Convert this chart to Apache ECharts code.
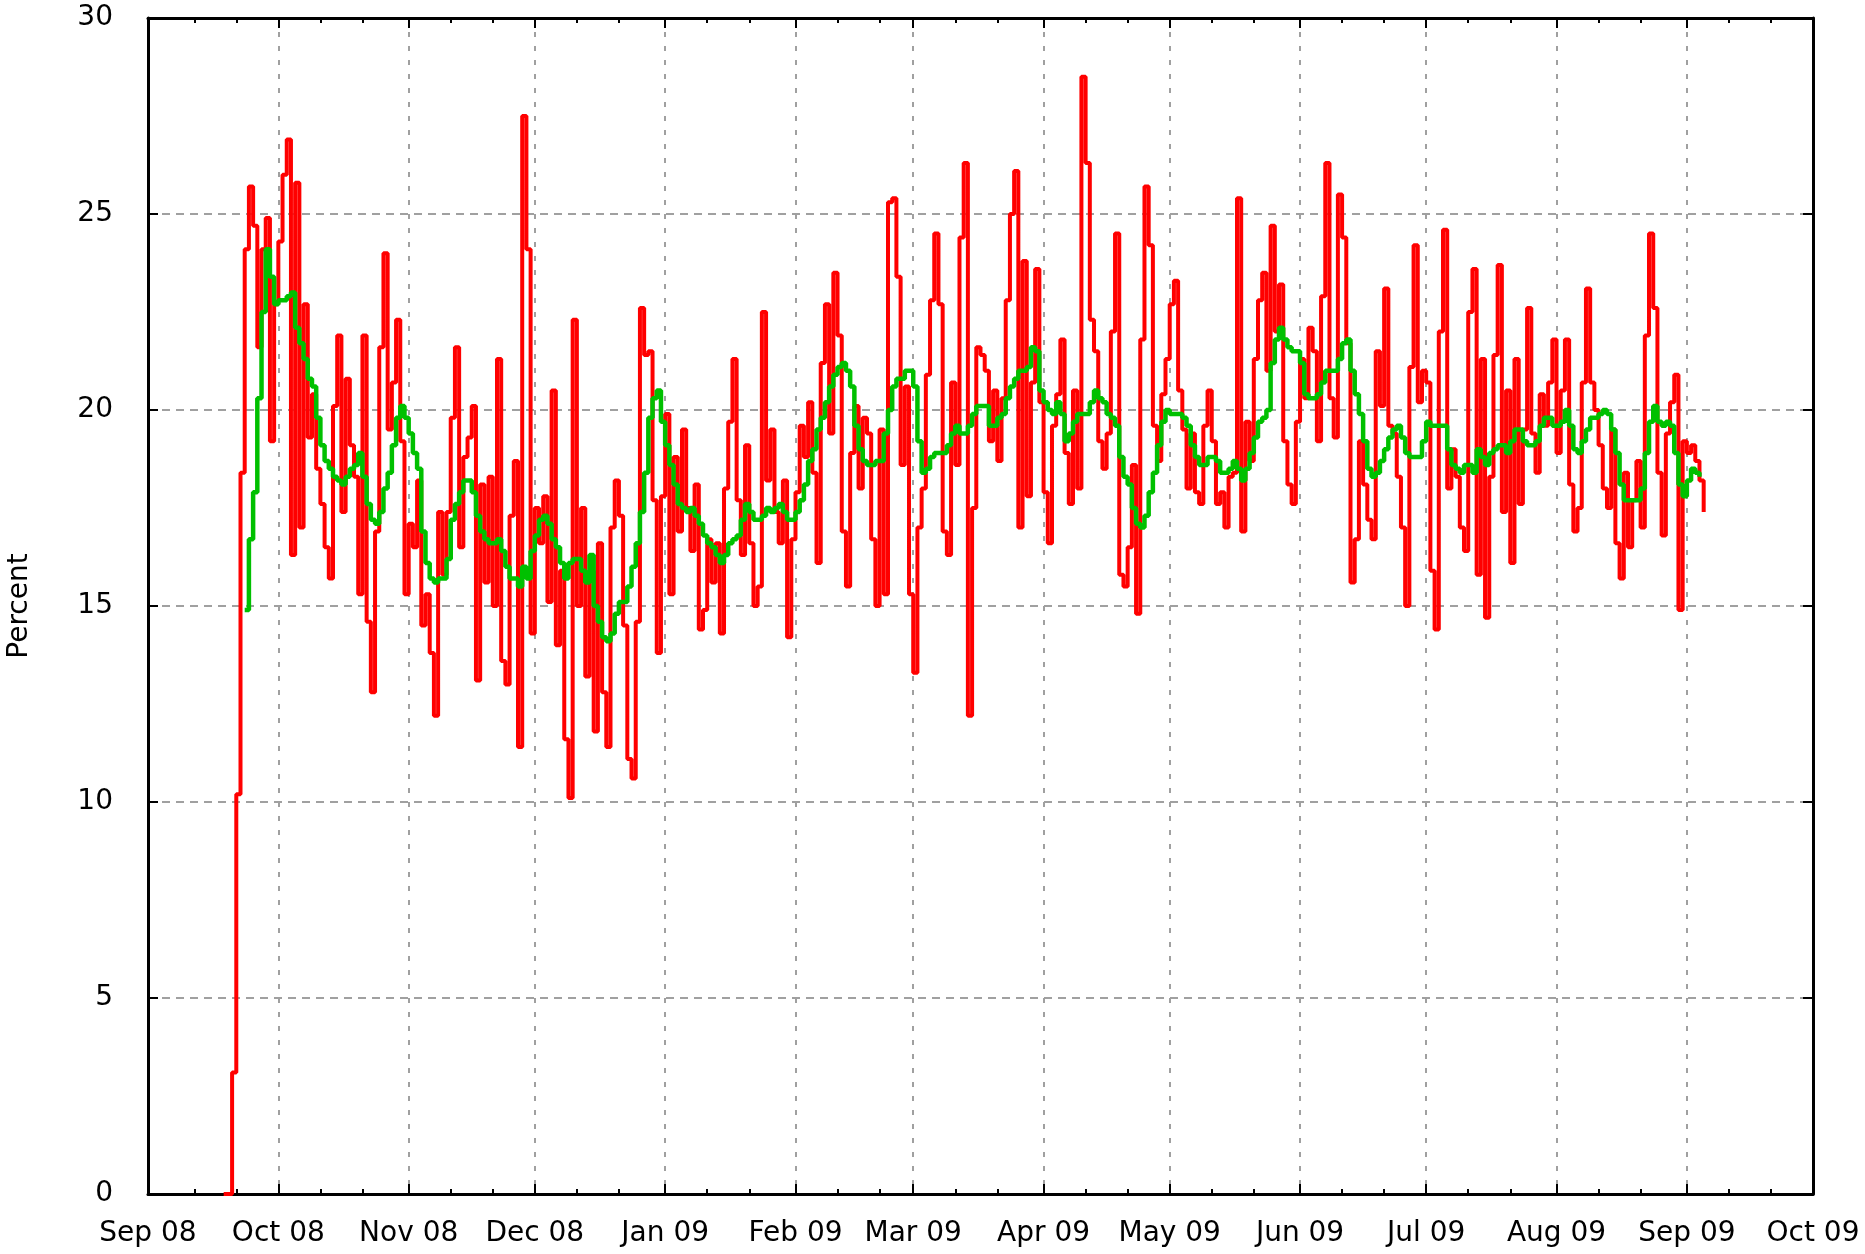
<!DOCTYPE html>
<html>
<head>
<meta charset="utf-8">
<script src="https://cdn.jsdelivr.net/npm/echarts/dist/echarts.min.js"></script>
<style>
html,body{margin:0;padding:0;background:#fff;}
#chart{width:1865px;height:1254px;}
</style>
</head>
<body>
<div id="chart"></div>
<script>
// x range of the axis (daily categories)
const axisStart = '2008-08-31';
const axisEnd = '2009-10-01';

// major tick positions and their labels
const tickDates = ['2008-08-31','2008-10-01','2008-11-01','2008-12-01','2009-01-01','2009-02-01','2009-03-01',
  '2009-04-01','2009-05-01','2009-06-01','2009-07-01','2009-08-01','2009-09-01','2009-10-01'];
const tickLabels = ['Sep 08','Oct 08','Nov 08','Dec 08','Jan 09','Feb 09','Mar 09',
  'Apr 09','May 09','Jun 09','Jul 09','Aug 09','Sep 09','Oct 09'];
const minorTickDays = [11, 21];

// y axis
const yMin = 0, yMax = 30, yStep = 5;

// daily percent (red), first value on dailyStart
const dailyStart = '2008-09-18';
const dailyPercent = [
  0, 0, 3.1, 10.2, 18.4, 24.1, 25.7, 24.7, 21.6, 24.1,
  24.9, 19.2, 22.7, 24.3, 26.0, 26.9, 16.3, 25.8, 17.0, 22.7,
  19.3, 20.4, 18.5, 17.6, 16.5, 15.7, 20.1, 21.9, 17.4, 20.8,
  19.1, 18.3, 15.3, 21.9, 14.6, 12.8, 16.9, 21.6, 24.0, 19.5,
  20.7, 22.3, 19.2, 15.3, 17.1, 16.5, 18.2, 14.5, 15.3, 13.8,
  12.2, 17.4, 15.8, 17.4, 19.8, 21.6, 16.5, 18.8, 19.3, 20.1,
  13.1, 18.1, 15.6, 18.3, 15.0, 21.3, 13.6, 13.0, 17.3, 18.7,
  11.4, 27.5, 24.1, 14.3, 17.5, 16.6, 17.8, 15.1, 20.5, 14.0,
  15.9, 11.6, 10.1, 22.3, 15.0, 17.5, 13.2, 15.9, 11.8, 16.6,
  12.8, 11.4, 17.0, 18.2, 17.3, 14.5, 11.1, 10.6, 14.6, 22.6,
  21.4, 21.5, 17.7, 13.8, 17.8, 19.9, 15.3, 18.8, 16.9, 19.5,
  17.5, 16.4, 18.1, 14.4, 14.9, 16.7, 15.6, 16.6, 14.3, 18.0,
  19.7, 21.3, 17.7, 16.3, 19.1, 16.6, 15.0, 15.5, 22.5, 18.2,
  19.5, 17.4, 16.6, 18.2, 14.2, 16.7, 17.9, 19.6, 18.8, 20.2,
  18.4, 16.1, 21.2, 22.7, 19.4, 23.5, 21.9, 16.9, 15.5, 18.9,
  20.1, 18.0, 19.8, 19.4, 16.7, 15.0, 19.5, 15.3, 25.3, 25.4,
  23.4, 18.6, 20.6, 15.3, 13.3, 17.0, 18.0, 20.9, 22.8, 24.5,
  22.7, 16.9, 16.3, 20.7, 18.6, 24.4, 26.3, 12.2, 17.5, 21.6,
  21.4, 21.0, 19.2, 20.5, 18.7, 20.3, 22.8, 25.0, 26.1, 17.0,
  23.8, 17.8, 20.7, 23.6, 20.2, 17.9, 16.6, 19.6, 20.4, 21.8,
  18.9, 17.6, 20.5, 18.0, 28.5, 26.3, 22.3, 21.5, 19.2, 18.5,
  19.4, 22.0, 24.5, 15.8, 15.5, 16.5, 18.6, 14.8, 21.8, 25.7,
  24.2, 19.6, 18.7, 20.4, 21.3, 22.7, 23.3, 20.5, 19.5, 18.0,
  19.4, 17.9, 17.6, 19.6, 20.5, 19.2, 17.6, 17.9, 17.0, 18.3,
  18.4, 25.4, 16.9, 19.7, 18.7, 21.3, 22.8, 23.5, 21.0, 24.7,
  22.0, 23.2, 19.2, 18.1, 17.6, 19.7, 21.3, 20.3, 22.1, 21.5,
  19.2, 22.9, 26.3, 20.3, 19.3, 25.5, 24.4, 21.7, 15.6, 16.7,
  19.2, 18.1, 17.2, 16.7, 21.5, 20.1, 23.1, 19.6, 19.4, 18.3,
  17.0, 15.0, 21.1, 24.2, 20.2, 21.0, 20.7, 15.9, 14.4, 22.0,
  24.6, 18.0, 19.0, 18.3, 17.0, 16.4, 22.5, 23.6, 15.8, 21.3,
  14.7, 18.3, 21.4, 23.7, 17.4, 20.5, 16.1, 21.3, 17.6, 19.5,
  22.6, 19.4, 18.4, 20.4, 19.6, 20.7, 21.8, 18.9, 20.5, 21.8,
  18.1, 16.9, 17.5, 20.7, 23.1, 20.7, 20.0, 19.1, 18.0, 17.5,
  19.5, 16.6, 15.7, 18.4, 16.5, 17.7, 18.7, 17.0, 21.9, 24.5,
  22.6, 18.4, 16.8, 19.4, 20.2, 20.9, 14.9, 19.2, 18.9, 19.1,
  18.7, 18.2, 17.4
];

// moving average (green), first value on averageStart
const averageStart = '2008-09-23';
const averagePercent = [
  14.9, 16.7, 17.9, 20.3, 22.5, 24.1, 23.4, 22.7, 22.8, 22.8,
  22.9, 23.0, 22.1, 21.7, 21.3, 20.8, 20.6, 19.8, 19.1, 18.7,
  18.5, 18.3, 18.2, 18.1, 18.3, 18.5, 18.6, 18.9, 18.3, 17.6,
  17.2, 17.1, 17.4, 18.0, 18.4, 19.1, 19.8, 20.1, 19.8, 19.4,
  18.9, 18.5, 16.9, 16.1, 15.7, 15.6, 15.7, 15.7, 16.2, 17.2,
  17.6, 17.9, 18.2, 18.2, 17.9, 17.3, 16.9, 16.7, 16.6, 16.6,
  16.7, 16.4, 16.0, 15.7, 15.7, 15.5, 16.0, 15.7, 16.4, 16.8,
  17.2, 17.3, 17.1, 16.7, 16.5, 16.1, 15.7, 16.1, 16.2, 16.2,
  15.9, 15.6, 16.3, 15.0, 14.6, 14.2, 14.1, 14.3, 14.8, 15.1,
  15.1, 15.5, 16.0, 16.6, 17.4, 18.4, 19.8, 20.3, 20.5, 19.7,
  19.1, 18.6, 18.1, 17.6, 17.5, 17.4, 17.5, 17.3, 17.1, 16.8,
  16.6, 16.5, 16.3, 16.1, 16.3, 16.6, 16.7, 16.8, 17.2, 17.6,
  17.4, 17.2, 17.2, 17.3, 17.5, 17.4, 17.5, 17.6, 17.4, 17.2,
  17.2, 17.4, 17.7, 18.1, 18.7, 19.0, 19.5, 19.8, 20.2, 20.6,
  20.9, 21.1, 21.2, 21.0, 20.6, 19.6, 19.0, 18.7, 18.6, 18.6,
  18.7, 18.7, 19.4, 20.0, 20.6, 20.8, 20.8, 21.0, 21.0, 20.6,
  19.2, 18.4, 18.5, 18.8, 18.9, 18.9, 18.9, 19.1, 19.4, 19.6,
  19.4, 19.4, 19.6, 19.9, 20.1, 20.1, 20.1, 19.6, 19.6, 19.8,
  19.9, 20.3, 20.6, 20.8, 21.0, 21.0, 21.1, 21.6, 21.5, 20.5,
  20.2, 20.0, 19.9, 20.2, 19.9, 19.2, 19.4, 19.7, 19.9, 19.9,
  19.9, 20.2, 20.5, 20.3, 20.2, 19.9, 19.8, 19.6, 18.8, 18.3,
  18.1, 17.5, 17.1, 17.0, 17.3, 17.9, 18.4, 19.1, 19.7, 20.0,
  19.9, 19.9, 19.9, 19.8, 19.6, 19.1, 18.8, 18.6, 18.6, 18.8,
  18.8, 18.7, 18.4, 18.4, 18.5, 18.7, 18.5, 18.2, 18.5, 18.9,
  19.3, 19.7, 19.8, 20.0, 21.2, 21.8, 22.1, 21.8, 21.6, 21.5,
  21.5, 21.2, 20.4, 20.3, 20.3, 20.4, 20.7, 21.0, 21.0, 21.0,
  21.3, 21.7, 21.8, 21.0, 20.4, 19.9, 19.2, 18.5, 18.3, 18.4,
  18.7, 19.0, 19.3, 19.5, 19.6, 19.3, 18.9, 18.8, 18.8, 18.8,
  19.2, 19.7, 19.6, 19.6, 19.6, 19.6, 19.0, 18.6, 18.5, 18.4,
  18.6, 18.6, 18.4, 19.0, 18.8, 18.6, 18.9, 19.0, 19.1, 19.1,
  18.9, 19.2, 19.5, 19.5, 19.2, 19.1, 19.1, 19.2, 19.6, 19.8,
  19.8, 19.6, 19.6, 19.7, 20.0, 19.6, 19.0, 18.9, 19.2, 19.5,
  19.8, 19.8, 19.9, 20.0, 19.9, 19.5, 18.9, 18.1, 17.7, 17.7,
  17.7, 17.7, 18.0, 18.9, 19.7, 20.1, 19.7, 19.6, 19.7, 19.6,
  18.9, 18.1, 17.8, 18.2, 18.5, 18.4, 18.3
];

function fmtDate(t) {
  const d = new Date(t);
  return d.getUTCFullYear() + '-' + String(d.getUTCMonth() + 1).padStart(2, '0') + '-' + String(d.getUTCDate()).padStart(2, '0');
}
const categories = [];
for (let t = Date.parse(axisStart + 'T00:00:00Z'); t <= Date.parse(axisEnd + 'T00:00:00Z'); t += 86400000) {
  categories.push(fmtDate(t));
}
function toPairs(start, values) {
  const i0 = categories.indexOf(start);
  return values.map((v, i) => [i0 + i, v]);
}
const isMajor = (i, v) => tickDates.indexOf(v) >= 0;
const isMinor = (i, v) => minorTickDays.indexOf(+v.slice(8, 10)) >= 0;
const isInnerMajor = (i, v) => isMajor(i, v) && i > 0 && i < categories.length - 1;

const FONT = 'DejaVu Sans';
const gridColor = '#a0a0a0';
const majorTick = { show: true, inside: true, length: 10, interval: isMajor, lineStyle: { color: '#000', width: 2 } };
const minorTick = { show: true, inside: true, length: 5, interval: isMinor, lineStyle: { color: '#000', width: 2 } };
const border = { show: true, onZero: false, lineStyle: { color: '#000', width: 3 } };
const baseX = { type: 'category', data: categories, boundaryGap: false, gridIndex: 0 };

const chart = echarts.init(document.getElementById('chart'), null, { renderer: 'canvas' });
chart.setOption({
  animation: false,
  backgroundColor: '#fff',
  grid: { left: 148, right: 52, top: 18, bottom: 60, containLabel: false, outerBoundsMode: 'none' },
  xAxis: [
    Object.assign({}, baseX, {
      position: 'bottom', z: 2,
      axisLine: border,
      axisTick: majorTick,
      axisLabel: {
        show: true, interval: isMajor, margin: 26,
        formatter: v => tickLabels[tickDates.indexOf(v)],
        fontSize: 28, color: '#000', fontFamily: FONT
      },
      splitLine: { show: true, interval: isInnerMajor, lineStyle: { color: gridColor, width: 2, type: [5, 9] } }
    }),
    Object.assign({}, baseX, {
      position: 'bottom', z: 2,
      axisLine: { show: false, onZero: false }, axisTick: minorTick,
      axisLabel: { show: false }, splitLine: { show: false }
    }),
    Object.assign({}, baseX, {
      position: 'top', z: 2,
      axisLine: border, axisTick: majorTick,
      axisLabel: { show: false }, splitLine: { show: false }
    }),
    Object.assign({}, baseX, {
      position: 'top', z: 2,
      axisLine: { show: false, onZero: false }, axisTick: minorTick,
      axisLabel: { show: false }, splitLine: { show: false }
    })
  ],
  yAxis: [
    {
      type: 'value', min: yMin, max: yMax, interval: yStep, position: 'left', z: 1,
      axisLine: border,
      axisTick: { show: true, inside: true, length: 10, lineStyle: { color: '#000', width: 2 } },
      axisLabel: { margin: 35, fontSize: 28, color: '#000', fontFamily: FONT },
      splitLine: { show: true, lineStyle: { color: gridColor, width: 2, type: [8, 6] } },
      name: 'Percent', nameLocation: 'middle', nameGap: 114,
      nameTextStyle: { fontSize: 28, color: '#000', fontFamily: FONT }
    },
    {
      type: 'value', min: yMin, max: yMax, interval: yStep, position: 'right', z: 2,
      axisLine: border,
      axisTick: { show: true, inside: true, length: 10, lineStyle: { color: '#000', width: 2 } },
      axisLabel: { show: false }, splitLine: { show: false }
    }
  ],
  series: [
    {
      name: 'Daily', type: 'line', xAxisIndex: 0, yAxisIndex: 0, z: 3,
      step: 'end', showSymbol: false, symbol: 'none',
      lineStyle: { color: '#ff0000', width: 4 },
      data: toPairs(dailyStart, dailyPercent)
    },
    {
      name: 'Average', type: 'line', xAxisIndex: 0, yAxisIndex: 0, z: 4,
      step: 'end', showSymbol: false, symbol: 'none',
      lineStyle: { color: '#00c000', width: 4.5 },
      data: toPairs(averageStart, averagePercent)
    }
  ]
});
</script>
</body>
</html>
